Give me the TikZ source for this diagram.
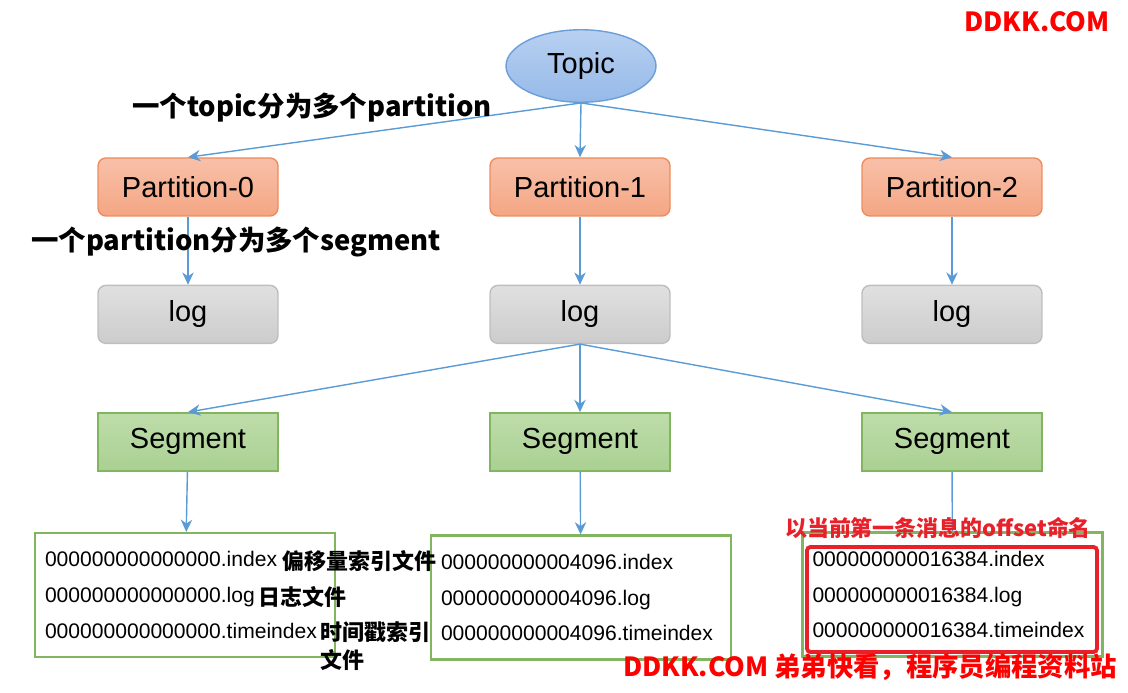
\documentclass[tikz,border=0pt]{standalone}
\usepackage{fontspec}
\setmainfont{Liberation Sans}
\newfontfamily\cjk{Noto Sans CJK SC}
\usepackage{tikz}
\usetikzlibrary{arrows.meta}
\usetikzlibrary{shapes.geometric, positioning}
\definecolor{topictop}{RGB}{184,208,241}
\definecolor{topicbot}{RGB}{150,186,232}
\definecolor{topicline}{RGB}{108,158,218}
\definecolor{parttop}{RGB}{248,192,168}
\definecolor{partbot}{RGB}{244,166,132}
\definecolor{partline}{RGB}{238,140,94}
\definecolor{logtop}{RGB}{224,224,224}
\definecolor{logbot}{RGB}{204,204,204}
\definecolor{logline}{RGB}{190,190,190}
\definecolor{segtop}{RGB}{190,221,170}
\definecolor{segbot}{RGB}{170,208,146}
\definecolor{segline}{RGB}{130,181,96}
\definecolor{arrowblue}{RGB}{91,155,213}
\definecolor{markred}{RGB}{232,32,42}
\tikzset{
    box/.style={
        rectangle,
        rounded corners=4.5pt,
        minimum width=3.6cm,
        minimum height=1.16cm,
        line width=0.8pt,
        font=\fontsize{16.5}{18}\selectfont
    },
    part/.style={box, draw=partline, top color=parttop, bottom color=partbot},
    logbox/.style={box, draw=logline, top color=logtop, bottom color=logbot},
    seg/.style={box, rounded corners=0pt, draw=segline, top color=segtop, bottom color=segbot},
    files/.style={
        rectangle,
        draw=segline,
        line width=1.2pt,
        minimum width=6cm,
        minimum height=2.48cm,
        text width=5.6cm,
        align=left,
        font=\fontsize{12}{20.4}\selectfont
    },
    arrow/.style={
        -{Stealth[length=7pt,width=6.5pt]},
        draw=arrowblue,
        line width=0.8pt
    },
    note/.style={font=\cjk\bfseries\fontsize{12.5}{14}\selectfont, inner sep=0pt, anchor=west}
}

\begin{document}
\begin{tikzpicture}[
node distance=1.36cm,
label/.style={font=\cjk\bfseries\fontsize{15.6}{17}\selectfont, inner sep=0pt},
redlabel/.style={font=\cjk\bfseries\fontsize{15}{17}\selectfont, text=red, inner sep=0pt}
]
\useasboundingbox (0,0) rectangle (22.56,-13.86);
\node[ellipse, draw=topicline, line width=0.8pt, top color=topictop, bottom color=topicbot,
      minimum width=3cm, minimum height=1.45cm, font=\fontsize{16.5}{18}\selectfont] (topic) at (11.62,-1.32) {Topic};
\node[part] (p0) at (3.76,-3.74) {Partition-0};
\node[part] (p1) at (11.6,-3.74) {Partition-1};
\node[part] (p2) at (19.04,-3.74) {Partition-2};
\node[logbox, below=of p0] (l0) {log};
\node[logbox, below=of p1] (l1) {log};
\node[logbox, below=of p2] (l2) {log};
\node[seg, below=of l0] (s0) {Segment};
\node[seg, below=of l1] (s1) {Segment};
\node[seg, below=of l2] (s2) {Segment};
\node[files] (f0) at (3.7,-11.9) {000000000000000.index\\000000000000000.log\\000000000000000.timeindex};
\node[files] (f1) at (11.62,-11.95) {000000000004096.index\\000000000004096.log\\000000000004096.timeindex};
\node[files] (f2) at (19.05,-11.89) {000000000016384.index\\000000000016384.log\\000000000016384.timeindex};
\node[draw=markred, line width=2.2pt, rounded corners=2pt, minimum width=5.8cm, minimum height=2.1cm] (pick) at (19.04,-11.99) {};

\draw[arrow] (topic.south) -- (p0.north);
\draw[arrow] (topic.south) -- (p1.north);
\draw[arrow] (topic.south) -- (p2.north);
\draw[arrow] (p0) -- (l0);
\draw[arrow] (p1) -- (l1);
\draw[arrow] (p2) -- (l2);
\draw[arrow] (l1.south) -- (s0.north);
\draw[arrow] (l1.south) -- (s1.north);
\draw[arrow] (l1.south) -- (s2.north);
\draw[arrow] (s0) -- (f0);
\draw[arrow] (s1) -- (f1);
\draw[arrowblue, line width=0.8pt] (s2) -- (f2);

\node[label] (t1) at (6.24,-2.16) {一个topic分为多个partition};
\node[label] (t2) at (4.72,-4.84) {一个partition分为多个segment};
\node[note] (n1) at (5.64,-11.22) {偏移量索引文件};
\node[note] (n2) at (5.16,-11.94) {日志文件};
\node[note] (n3) at (6.4,-12.64) {时间戳索引};
\node[note] (n4) at (6.4,-13.2) {文件};
\node[note, anchor=center, text=markred] (name) at (18.76,-10.56) {以当前第一条消息的offset命名};
\node[redlabel] (site) at (20.74,-0.44) {DDKK.COM};
\node[redlabel] (slogan) at (17.4,-13.34) {DDKK.COM 弟弟快看，程序员编程资料站};
\end{tikzpicture}
\end{document}
